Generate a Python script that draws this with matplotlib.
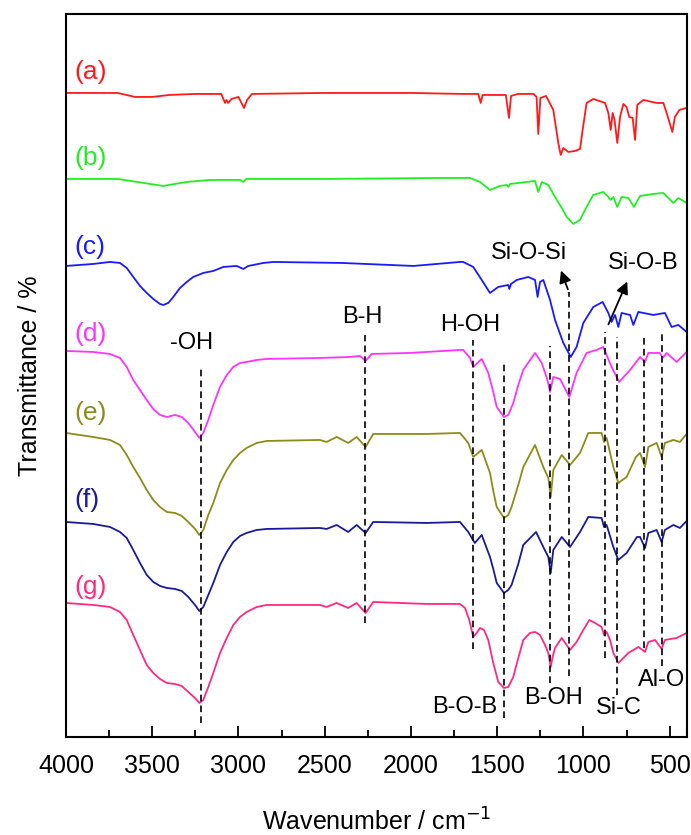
import matplotlib
matplotlib.use("Agg")
import matplotlib.pyplot as plt

plt.rcParams['font.family'] = ['Liberation Sans', 'DejaVu Sans']

# spectra (wavenumber, offset transmittance in arbitrary units)
wn_a = [4000, 3700, 3600, 3500, 3400, 3250, 3100, 3078, 3070, 3060, 3040, 3000, 2968, 2950, 2922, 2500, 2000, 1700, 1610, 1596,
        1585, 1450, 1432, 1420, 1380, 1290, 1272, 1262, 1250, 1217, 1175, 1146, 1132, 1117, 1088, 1049, 1020, 1005, 982, 943,
        875, 856, 842, 831, 820, 804, 788, 769, 750, 735, 715, 701, 688, 653, 576, 537, 518, 485, 470, 444, 402]
t_a = [644, 644, 640, 640, 642, 643, 643, 634, 637, 634, 638, 640, 629, 637, 643, 644, 644, 643, 643, 634,
       642, 642, 619, 641, 643, 643, 640, 603, 639, 641, 627, 594, 582, 589, 585, 586, 588, 607, 634, 638,
       634, 624, 607, 624, 617, 594, 620, 633, 630, 620, 619, 597, 632, 637, 634, 634, 624, 605, 620, 627, 629]

wn_b = [4000, 3700, 3550, 3436, 3300, 3165, 2990, 2972, 2955, 2500, 1832, 1658, 1600, 1542, 1484, 1445, 1436, 1425, 1281, 1262,
        1242, 1204, 1165, 1126, 1097, 1059, 1020, 982, 943, 885, 856, 843, 827, 804, 779, 740, 707, 672, 595, 537,
        508, 479, 450, 402]
t_b = [558, 558, 554, 551, 555, 557, 557, 555, 558, 558, 559, 559, 555, 547, 551, 552, 550, 553, 556, 545,
       555, 552, 540, 529, 520, 513, 517, 530, 542, 545, 540, 537, 540, 530, 540, 539, 530, 541, 543, 544,
       539, 534, 539, 534]

wn_c = [4000, 3842, 3745, 3687, 3648, 3610, 3571, 3532, 3494, 3455, 3436, 3407, 3378, 3339, 3300, 3262, 3204, 3146, 3088,
        3010, 2972, 2943, 2856, 2798, 2400, 1986, 1716, 1697, 1639,
        1590, 1542, 1494, 1436, 1430, 1420, 1387, 1320, 1281, 1266, 1252, 1233, 1194, 1165, 1117, 1074, 1040, 1001, 943, 889,
        856, 837, 817, 798, 779, 730, 711, 682, 595, 528, 489, 450, 402]
t_c = [471, 473, 475, 474, 469, 460, 451, 444, 438, 433, 432, 434, 440, 449, 455, 460, 464, 466, 470,
       471, 468, 471, 474, 475, 474, 471, 475, 475, 470,
       457, 444, 450, 452, 448, 453, 457, 460, 457, 440, 455, 457, 437, 417, 394, 380, 390, 414, 430, 435,
       424, 415, 422, 410, 424, 422, 412, 425, 422, 424, 410, 412, 405]

# common sampling of the broad -OH band for traces d-g
wn_oh = [4000, 3842, 3745, 3687, 3648, 3610, 3571, 3532, 3494, 3455, 3416, 3368, 3329, 3291, 3252, 3227, 3204, 3175, 3146, 3107,
         3068, 3030, 2991, 2953, 2894, 2836]

wn_d = wn_oh + [2528, 2354, 2296, 2263, 2228, 2006, 1716, 1697, 1658, 1639, 1590, 1552, 1523, 1503, 1461, 1436, 1407, 1378, 1349, 1281,
                1242, 1209, 1194, 1175, 1136, 1082, 1040, 982, 924, 885, 871, 837, 793, 730, 672, 643, 624, 557, 541, 518,
                460, 402]
t_d = [386, 385, 383, 379, 370, 357, 347, 337, 328, 322, 320, 322, 320, 314, 305, 299, 304, 317, 332, 350,
       362, 370, 374, 375, 377, 378,
       379, 380, 381, 376, 383, 384, 387, 387, 379, 370, 378, 364, 345, 330, 320, 322, 334, 352, 367, 384,
       374, 357, 345, 360, 358, 340, 364, 384, 387, 390, 384, 370, 355, 367, 380, 375, 384, 384, 379, 384,
       375, 385]

wn_e = wn_oh + [2528, 2489, 2431, 2364, 2315, 2263, 2219, 1909, 1716, 1668, 1639, 1590, 1542, 1523, 1503, 1461, 1436, 1417, 1378, 1349,
                1281, 1233, 1204, 1190, 1175, 1126, 1078, 1020, 972, 895, 881, 866, 827, 798, 750, 696, 672, 643, 624, 576,
                547, 528, 479, 441, 402]
t_e = [304, 300, 297, 292, 282, 270, 259, 247, 237, 230, 225, 224, 221, 215, 208, 202, 207, 222, 234, 254,
       267, 277, 284, 289, 294, 296,
       297, 295, 300, 294, 300, 290, 303, 303, 304, 294, 280, 287, 264, 246, 230, 219, 222, 230, 252, 270,
       292, 270, 259, 240, 267, 282, 272, 284, 304, 304, 295, 299, 270, 254, 260, 280, 284, 270, 290, 294,
       280, 294, 297, 295, 303]

wn_f = wn_oh + [2528, 2489, 2431, 2364, 2315, 2263, 2219, 1909, 1716, 1668, 1630, 1590, 1542, 1523, 1503, 1461, 1436, 1417, 1378, 1349,
                1275, 1233, 1204, 1190, 1175, 1126, 1078, 1020, 972, 895, 881, 866, 827, 798, 750, 690, 672, 643, 624, 576,
                547, 528, 479, 441, 402]
t_f = [215, 213, 210, 205, 199, 187, 174, 162, 155, 151, 149, 148, 146, 140, 132, 126, 130, 142, 154, 172,
       185, 195, 201, 204, 207, 208,
       209, 208, 212, 205, 212, 204, 215, 214, 215, 205, 194, 202, 180, 168, 154, 144, 147, 152, 173, 192,
       205, 190, 180, 164, 187, 200, 190, 205, 220, 219, 210, 212, 190, 177, 184, 200, 200, 189, 204, 207,
       195, 207, 212, 209, 216]

wn_g = wn_oh + [2528, 2489, 2431, 2364, 2315, 2263, 2219, 1909, 1716, 1687, 1662, 1639, 1619, 1600, 1577, 1552, 1523, 1494, 1461, 1436,
                1407, 1378, 1349, 1310, 1281, 1252, 1223, 1204, 1190, 1179, 1165, 1126, 1078, 1040, 1001, 966, 933, 895, 881, 866,
                846, 827, 798, 740, 681, 643, 624, 585, 547, 528, 460, 402]
t_g = [134, 132, 130, 125, 117, 102, 87, 72, 64, 58, 54, 53, 51, 45, 39, 34, 37, 50, 64, 84,
       99, 112, 120, 125, 130, 132,
       132, 130, 134, 129, 134, 124, 135, 133, 133, 129, 117, 100, 104, 109, 107, 97, 74, 55, 49, 50,
       60, 79, 97, 104, 105, 102, 92, 84, 70, 80, 89, 99, 87, 95, 107, 117, 114, 110, 102, 105,
       97, 84, 74, 84, 90, 85, 95, 97, 88, 97, 99, 104]

series = [(wn_a, t_a), (wn_b, t_b), (wn_c, t_c), (wn_d, t_d), (wn_e, t_e), (wn_f, t_f), (wn_g, t_g)]
names = ['(a)', '(b)', '(c)', '(d)', '(e)', '(f)', '(g)']
colors = ['#ff1a1a', '#22ee22', '#1a1aff', '#ff33ff', '#8c8c1a', '#1a1a99', '#ff2a80']
name_y = [665, 579, 490, 403, 324, 237, 150]

# band markers
mark_wn = [3220, 2267, 1640, 1460, 1195, 1085, 875, 803, 647, 546]
mark_top = [369, 402, 397, 375, 391, 445, 405, 400, 402, 405]
mark_bottom = [14, 114, 88, 19, 54, 61, 79, 42, 89, 71]

band_text = ['-OH', 'B-H', 'H-OH', 'Si-O-Si', 'Si-O-B', 'B-O-B', 'B-OH', 'Si-C', 'Al-O']
band_x = [3270, 2281, 1656, 1316, 653, 1690, 1172, 794, 550]
band_y = [394, 420, 412, 484, 474, 30, 39, 29, 57]

fig = plt.figure(figsize=(6.91, 8.35), dpi=100)
ax = fig.add_axes([0.0955, 0.1174, 0.8987, 0.8659])

for (wn, t), c in zip(series, colors):
    ax.plot(wn, t, color=c, lw=1.3)

for n, y, c in zip(names, name_y, colors):
    ax.text(3950, y, n, color=c, fontsize=19, ha='left', va='center')

for x, y0, y1 in zip(mark_wn, mark_bottom, mark_top):
    ax.plot([x, x], [y0, y1], color='k', lw=1.2, linestyle=(0, (4, 2.5)))

for s, x, y in zip(band_text, band_x, band_y):
    ax.text(x, y, s, fontsize=17, ha='center', va='center')

arrow = dict(arrowstyle='-|>', color='k', lw=1.3, mutation_scale=18)
ax.annotate('', xy=(1136, 469), xytext=(1085, 445), arrowprops=arrow)
ax.annotate('', xy=(740, 458), xytext=(862, 410), arrowprops=arrow)

ax.set_xlim(4000, 400)
ax.set_ylim(0, 723)
ax.set_xticks([4000, 3500, 3000, 2500, 2000, 1500, 1000, 500])
ax.set_xticks(range(3750, 400, -500), minor=True)
ax.set_yticks([])
ax.tick_params(axis='x', which='major', direction='in', length=8, width=1.3, labelsize=18, pad=12)
ax.tick_params(axis='x', which='minor', direction='in', length=5, width=1.3)
for sp in ax.spines.values():
    sp.set_linewidth(1.5)

ax.set_xlabel('Wavenumber / cm$^{-1}$', fontsize=18, labelpad=22)
ax.set_ylabel('Transmittance / %', fontsize=18, labelpad=17)

fig.savefig('out.png', dpi=100)
